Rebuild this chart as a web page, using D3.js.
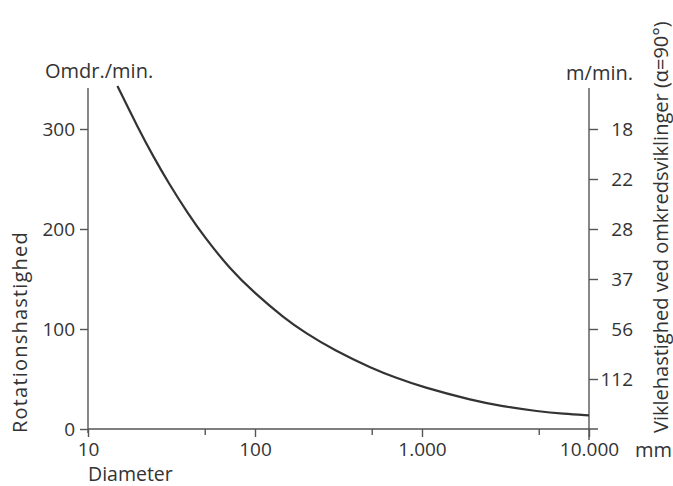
<!DOCTYPE html>
<html>
<head>
<meta charset="utf-8">
<script src="https://cdn.jsdelivr.net/npm/d3@7"></script>
<style>
  html, body { margin: 0; padding: 0; background: #fff; }
  svg { display: block; }
  text { font-family: "Open Sans", "DejaVu Sans", sans-serif; fill: #333; }
</style>
</head>
<body>
<svg id="chart" width="673" height="486"></svg>
<script>
// ---- Data ----
const diameters = [15, 20, 25, 30, 40, 50, 70, 100, 150, 200, 300, 500, 700, 1000, 2000, 3000, 5000, 7000, 10000];
const rpm       = [343, 300.5, 270.4, 247.5, 214.4, 191.6, 161, 135.4, 110.8, 96.1, 78.5, 60.7, 51.1, 42.1, 28.6, 22.8, 17.5, 15.2, 13.6];

const xTickValues = [10, 100, 1000, 10000];
const xTickLabels = ["10", "100", "1.000", "10.000"];
const xMinorTicks = [50, 500, 5000];
const yTickValues = [0, 100, 200, 300];
const rightTickRpm = [300, 250, 200, 150, 100, 50];
const rightTickLabels = ["18", "22", "28", "37", "56", "112"];

// ---- Layout ----
const svg = d3.select("#chart");
const mLeft = 88, mRight = 589, mTop = 88, mBottom = 429;

const x = d3.scaleLog().domain([10, 10000]).range([mLeft, mRight]);
const y = d3.scaleLinear().domain([0, mBottom - mTop]).range([mBottom, mTop]);

const axisColor = "#555";

// X axis major
const xAxis = d3.axisBottom(x)
  .tickValues(xTickValues)
  .tickFormat((d, i) => xTickLabels[i])
  .tickSize(8)
  .tickSizeOuter(0);
const gx = svg.append("g").attr("transform", `translate(0,${mBottom})`).call(xAxis);
gx.select(".domain").remove();
gx.selectAll(".tick line").attr("stroke", axisColor).attr("stroke-width", 1.4);
gx.selectAll(".tick text").attr("y", 14).attr("font-size", 19).attr("fill", "#333");
svg.append("line").attr("x1", mLeft).attr("x2", mRight + 9).attr("y1", mBottom).attr("y2", mBottom)
  .attr("stroke", axisColor).attr("stroke-width", 1.4);
// Minor ticks
const xMinor = d3.axisBottom(x).tickValues(xMinorTicks).tickFormat("").tickSize(6).tickSizeOuter(0);
const gxm = svg.append("g").attr("transform", `translate(0,${mBottom})`).call(xMinor);
gxm.select(".domain").remove();
gxm.selectAll(".tick line").attr("stroke", axisColor).attr("stroke-width", 1.4);

// Left axis
const yAxis = d3.axisLeft(y).tickValues(yTickValues).tickSize(8).tickSizeOuter(0);
const gy = svg.append("g").attr("transform", `translate(${mLeft},0)`).call(yAxis);
gy.select(".domain").remove();
gy.selectAll(".tick line").attr("stroke", axisColor).attr("stroke-width", 1.4);
gy.selectAll(".tick text").attr("x", -13).attr("font-size", 19).attr("fill", "#333");
svg.append("line").attr("x1", mLeft).attr("x2", mLeft).attr("y1", mTop).attr("y2", mBottom + 4)
  .attr("stroke", axisColor).attr("stroke-width", 1.4);

// Right axis
const yRight = d3.axisRight(y).tickValues(rightTickRpm)
  .tickFormat((d, i) => rightTickLabels[i]).tickSize(9).tickSizeOuter(0);
const gr = svg.append("g").attr("transform", `translate(${mRight},0)`).call(yRight);
gr.select(".domain").remove();
gr.selectAll(".tick line").attr("stroke", axisColor).attr("stroke-width", 1.4);
gr.selectAll(".tick text").attr("x", 44).attr("text-anchor", "end").attr("font-size", 19).attr("fill", "#333");
svg.append("line").attr("x1", mRight).attr("x2", mRight).attr("y1", mTop).attr("y2", mBottom + 11)
  .attr("stroke", axisColor).attr("stroke-width", 1.4);

// Curve
const line = d3.line().x((d, i) => x(diameters[i])).y(d => y(d)).curve(d3.curveBasis);
svg.append("path").datum(rpm).attr("d", line)
  .attr("fill", "none").attr("stroke", "#333").attr("stroke-width", 2.2);

// Titles
svg.append("text").attr("x", 45).attr("y", 78).attr("font-size", 20).text("Omdr./min.");
svg.append("text").attr("x", 633).attr("y", 80).attr("font-size", 20).attr("text-anchor", "end").text("m/min.");
svg.append("text").attr("x", 635).attr("y", 457).attr("font-size", 20).text("mm");
svg.append("text").attr("x", 88).attr("y", 481).attr("font-size", 19.5).text("Diameter");
svg.append("text").attr("transform", "translate(27,433) rotate(-90)")
  .attr("font-size", 20).attr("letter-spacing", 1.2).text("Rotationshastighed");
svg.append("text").attr("transform", "translate(668,433) rotate(-90)")
  .attr("font-size", 20).text("Viklehastighed ved omkredsviklinger (α=90°)");
</script>
</body>
</html>
